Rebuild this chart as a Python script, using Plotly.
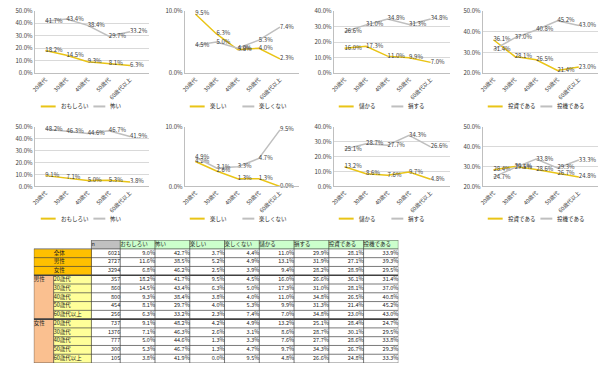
import plotly.graph_objects as go

# ---------------- data ----------------
categories = ["20歳代", "30歳代", "40歳代", "50歳代", "60歳代以上"]

row_groups = ["", "", "", "男性", "", "", "", "", "女性", "", "", "", ""]
row_labels = ["全体", "男性", "女性",
              "20歳代", "30歳代", "40歳代", "50歳代", "60歳代以上",
              "20歳代", "30歳代", "40歳代", "50歳代", "60歳代以上"]
n_values = [6021, 2727, 3294, 357, 860, 800, 454, 256, 737, 1376, 777, 300, 105]

omoshiroi = [9.0, 11.6, 6.8, 18.2, 14.5, 9.3, 8.1, 6.3, 9.1, 7.1, 5.0, 5.3, 3.8]
kowai = [42.7, 38.5, 46.2, 41.7, 43.4, 38.4, 29.7, 33.2, 48.2, 46.3, 44.6, 46.7, 41.9]
tanoshii = [3.7, 5.2, 2.5, 9.5, 6.3, 3.8, 4.0, 2.3, 4.2, 2.6, 1.3, 1.3, 0.0]
tanoshikunai = [4.4, 4.9, 3.9, 4.5, 5.0, 4.0, 5.3, 7.4, 4.9, 3.1, 3.3, 4.7, 9.5]
mokaru = [11.0, 13.1, 9.4, 16.0, 17.3, 11.0, 9.9, 7.0, 13.2, 8.6, 7.6, 9.7, 4.8]
sonsuru = [29.9, 31.9, 28.2, 26.6, 31.0, 34.8, 31.3, 34.8, 25.1, 28.7, 27.7, 34.3, 26.6]
toshi = [28.1, 27.1, 28.9, 36.1, 28.1, 26.5, 21.4, 23.0, 28.4, 30.1, 28.6, 26.7, 24.8]
toki = [33.9, 39.3, 29.5, 31.4, 37.0, 40.8, 45.2, 43.0, 24.7, 29.5, 33.8, 29.3, 33.3]

headers = ["", "", "n", "おもしろい", "怖い", "楽しい", "楽しくない",
           "儲かる", "損する", "投資である", "投機である"]

# ---------------- style ----------------
YELLOW = "#E9C416"
GRAY = "#BFBFBF"
FONT = "Noto Sans CJK JP"
TXT = "#404040"
W, H = 600, 368

pairs = [
    ("おもしろい", omoshiroi, "怖い", kowai, (0, 50)),
    ("楽しい", tanoshii, "楽しくない", tanoshikunai, (0, 10)),
    ("儲かる", mokaru, "損する", sonsuru, (0, 40)),
    ("投資である", toshi, "投機である", toki, (20, 50)),
]
groups = [slice(3, 8), slice(8, 13)]

x_off = [0, 150, 300, 450]
x_dom_px = [(31, 146), (182, 297), (332, 449), (482, 598)]
y_dom_px = [(6, 70), (125, 186)]
legend_y_px = [104, 219]

fig = go.Figure()
layout = {}
shapes = []
annotations = []
k = 0
for r, sl in enumerate(groups):
    for c, (n1, v1, n2, v2, yr) in enumerate(pairs):
        k += 1
        sfx = "" if k == 1 else str(k)
        for name, vals, color in ((n1, v1[sl], YELLOW), (n2, v2[sl], GRAY)):
            fig.add_trace(go.Scatter(
                x=categories, y=vals, name=name, mode="lines+text",
                text=[f"{v:.1f}%" for v in vals], textposition="middle right",
                textfont=dict(size=6, color=TXT, family=FONT),
                line=dict(color=color, width=1.5),
                xaxis="x" + sfx, yaxis="y" + sfx, showlegend=False,
                cliponaxis=False, hoverinfo="skip"))
        x0, x1 = x_dom_px[c]
        y0, y1 = y_dom_px[r]
        layout["xaxis" + sfx] = dict(
            domain=[x0 / W, x1 / W], anchor="y" + sfx, type="category",
            range=[-0.5, 4.9], tickangle=-45, showline=True, linecolor=GRAY,
            linewidth=1, showgrid=False, ticks="", fixedrange=True,
            tickfont=dict(size=5.5, color=TXT, family=FONT))
        layout["yaxis" + sfx] = dict(
            domain=[1 - y1 / H, 1 - y0 / H], anchor="x" + sfx, range=list(yr),
            dtick=10, tick0=0, tickformat=".1f", ticksuffix="%",
            showline=True, linecolor=GRAY, linewidth=1, fixedrange=True,
            gridcolor="#D9D9D9", zeroline=False, ticks="",
            tickfont=dict(size=6, color=TXT, family=FONT))
        # legend keys (line sample + label) under each chart
        ly = 1 - legend_y_px[r] / H
        for (lx0, lx1, tx), name, color in (((37, 52, 55), n1, YELLOW),
                                            ((90, 102, 105), n2, GRAY)):
            shapes.append(dict(type="line", xref="paper", yref="paper",
                               x0=(x_off[c] + lx0) / W, x1=(x_off[c] + lx1) / W,
                               y0=ly, y1=ly, line=dict(color=color, width=2)))
            annotations.append(dict(x=(x_off[c] + tx) / W, y=ly, xref="paper",
                                    yref="paper", text=name, showarrow=False,
                                    xanchor="left", yanchor="middle",
                                    font=dict(size=5.5, color="#222222", family=FONT)))

# ---------------- table ----------------
def pct(vals):
    return [f"{v:.1f}%" for v in vals]


table_cols = [row_groups, row_labels, [str(v) for v in n_values],
              pct(omoshiroi), pct(kowai), pct(tanoshii), pct(tanoshikunai),
              pct(mokaru), pct(sonsuru), pct(toshi), pct(toki)]
col_widths = [20, 38, 29] + [35] * 8
edges = [0]
for w_ in col_widths:
    edges.append(edges[-1] + w_)
n_rows = len(row_labels) + 1
row_edges = list(range(n_rows + 1))

# fill codes: 0 white, 1 gray, 2 green, 3 gold, 4 peach, 5 light yellow
fill_scale = ["#FFFFFF", "#C0C0C0", "#CCFFCC", "#FFC000", "#FAC090", "#FFFF99"]
z = [[0, 0, 1] + [2] * 8]
for i in range(len(row_labels)):
    if i < 3:
        z.append([3, 3] + [0] * 9)
    else:
        z.append([4, 5] + [0] * 9)
colorscale = [[i / (len(fill_scale) - 1), col] for i, col in enumerate(fill_scale)]

fig.add_trace(go.Heatmap(
    x=edges, y=row_edges, z=z, zmin=0, zmax=len(fill_scale) - 1,
    colorscale=colorscale, showscale=False, hoverinfo="skip",
    xaxis="x9", yaxis="y9"))

# borders
bx, by, tx_, ty_ = [], [], [], []
thick_rows = [4, 9]
for yy in row_edges:
    if yy == 0:
        xs = (edges[2], edges[-1])
    elif yy in (5, 6, 7, 8, 10, 11, 12, 13):
        xs = (edges[1], edges[-1])
    else:
        xs = (edges[0], edges[-1])
    if yy in thick_rows:
        tx_ += [xs[0], xs[1], None]
        ty_ += [yy, yy, None]
    else:
        bx += [xs[0], xs[1], None]
        by += [yy, yy, None]
for j, xx in enumerate(edges):
    if j == 0:
        ys = (1, n_rows)
    elif j == 1:
        ys = (4, n_rows)
    else:
        ys = (0, n_rows)
    bx += [xx, xx, None]
    by += [ys[0], ys[1], None]
fig.add_trace(go.Scatter(x=bx, y=by, mode="lines", line=dict(color="#404040", width=0.7),
                         xaxis="x9", yaxis="y9", showlegend=False, hoverinfo="skip"))
fig.add_trace(go.Scatter(x=tx_, y=ty_, mode="lines", line=dict(color="#404040", width=1.6),
                         xaxis="x9", yaxis="y9", showlegend=False, hoverinfo="skip"))

# cell texts
lx, ly_, lt, rx, ry, rt = [], [], [], [], [], []
for c, h in enumerate(headers):
    if h:
        lx.append(edges[c])
        ly_.append(0.5)
        lt.append(h)
for c, col in enumerate(table_cols):
    for i, v in enumerate(col):
        if not v:
            continue
        if c < 2:
            lx.append(edges[c])
            ly_.append(i + 1.5)
            lt.append(v)
        else:
            rx.append(edges[c + 1])
            ry.append(i + 1.5)
            rt.append(v)
fig.add_trace(go.Scatter(x=lx, y=ly_, text=lt, mode="text", textposition="middle right",
                         textfont=dict(size=5.5, color="#222222", family=FONT),
                         xaxis="x9", yaxis="y9", showlegend=False, hoverinfo="skip",
                         cliponaxis=False))
fig.add_trace(go.Scatter(x=rx, y=ry, text=rt, mode="text", textposition="middle left",
                         textfont=dict(size=5.5, color="#222222", family=FONT),
                         xaxis="x9", yaxis="y9", showlegend=False, hoverinfo="skip",
                         cliponaxis=False))

layout["xaxis9"] = dict(domain=[30 / W, (30 + edges[-1]) / W], anchor="y9",
                        range=[0, edges[-1]], visible=False, fixedrange=True)
layout["yaxis9"] = dict(domain=[1 - (241 + 9 * n_rows) / H, 1 - 241 / H], anchor="x9",
                        range=[n_rows, 0], visible=False, fixedrange=True)

fig.update_layout(width=W, height=H, margin=dict(l=0, r=0, t=0, b=0),
                  paper_bgcolor="white", plot_bgcolor="white",
                  showlegend=False, shapes=shapes, annotations=annotations,
                  **layout)
fig.write_html("out.html", config={"displayModeBar": False},
               post_script="document.body.style.margin='0px';")
